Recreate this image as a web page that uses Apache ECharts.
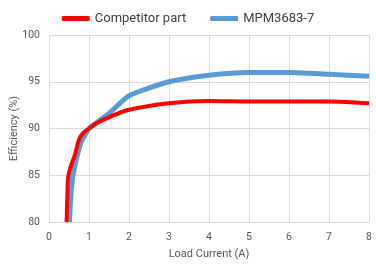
<!DOCTYPE html>
<html><head><meta charset="utf-8">
<script src="https://cdn.jsdelivr.net/npm/echarts@6/dist/echarts.min.js"></script>
<style>html,body{margin:0;padding:0;background:#fff}#c{width:376px;height:266px}</style>
</head><body><div id="c"></div>
<script>
const seriesNames = ['Competitor part', 'MPM3683-7'];
const competitor = [[0.44,80],[0.46,83],[0.48,84.8],[0.55,86],[0.65,87.2],[0.75,88.8],[0.85,89.5],[1,90],[1.2,90.6],[1.5,91.2],[2,92],[3,92.7],[4,92.95],[5,92.9],[6,92.9],[7,92.9],[8,92.7]];
const mpm = [[0.51,80],[0.55,83],[0.6,85],[0.7,87],[0.8,88.5],[0.9,89.3],[1,90],[1.5,91.6],[2,93.5],[3,95],[4,95.7],[5,96],[6,96],[7,95.8],[8,95.6]];
const xTicks = {min:0, max:8, interval:1};
const yTicks = {min:80, max:100, interval:5};
const chart = echarts.init(document.getElementById('c'));
const font = 'Roboto, "DejaVu Sans", sans-serif';
chart.setOption({
  animation:false,
  legend:{top:7,left:'center',itemWidth:28,itemHeight:5,itemGap:24,icon:'roundRect',
    textStyle:{fontSize:13,color:'#404040',fontFamily:font},
    data:seriesNames},
  grid:{left:49,right:7,top:35,bottom:44,outerBoundsMode:'none',containLabel:false},
  xAxis:{type:'value',min:xTicks.min,max:xTicks.max,interval:xTicks.interval,
    name:'Load Current (A)',nameLocation:'middle',nameGap:27,nameMoveOverlap:false,
    nameTextStyle:{fontSize:11,color:'#595959',fontFamily:font},
    axisLine:{show:true,lineStyle:{color:'#d9d9d9'}},axisTick:{show:false},
    axisLabel:{fontSize:10.5,color:'#595959',fontFamily:font,margin:10},
    splitLine:{show:true,lineStyle:{color:'#d9d9d9'}}},
  yAxis:{type:'value',min:yTicks.min,max:yTicks.max,interval:yTicks.interval,
    name:'Efficiency (%)',nameLocation:'middle',nameGap:35,nameMoveOverlap:false,
    nameTextStyle:{fontSize:11,color:'#595959',fontFamily:font,verticalAlign:'middle'},
    axisLine:{show:false},axisTick:{show:false},
    axisLabel:{fontSize:10.5,color:'#595959',fontFamily:font,margin:9},
    splitLine:{show:true,lineStyle:{color:'#d9d9d9'}}},
  series:[
    {name:seriesNames[1],type:'line',data:mpm,showSymbol:false,smooth:0.2,
      lineStyle:{width:5,color:'#5b9bd5'},itemStyle:{color:'#5b9bd5'}},
    {name:seriesNames[0],type:'line',data:competitor,showSymbol:false,smooth:0.3,
      lineStyle:{width:4,color:'#ff0000'},itemStyle:{color:'#ff0000'}}
  ]
});
</script></body></html>
